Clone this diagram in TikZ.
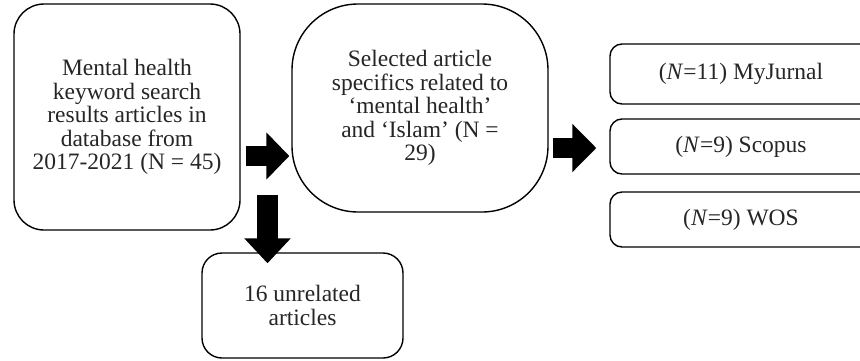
\documentclass[tikz,border=0pt]{standalone}
\usepackage{fontspec}
\setmainfont{Liberation Serif}
\usetikzlibrary{arrows.meta}
\tikzset{
  box/.style={draw=black, line width=1.4pt, fill=white, inner sep=0pt, align=center,
    font=\fontsize{23.5}{23.5}\selectfont, text=black!85},
  bigarrow/.style={line width=20pt, draw=black},
}
\begin{document}
\begin{tikzpicture}[x=1pt,y=-1pt]
\path[use as bounding box] (0,0) rectangle (860,360);
\clip (0,0) rectangle (860,360);
\node[box, rounded corners=30pt, minimum width=226pt, minimum height=226pt] (b1) at (127,117)
  {Mental health\\keyword search\\results articles in\\database from\\2017-2021 (N = 45)};
\node[box, rounded corners=66pt, minimum width=256pt, minimum height=208pt] (b2) at (420,108)
  {Selected article\\specifics related to\\‘mental health’\\and ‘Islam’ (N =\\29)};
\node[box, rounded corners=20pt, minimum width=201pt, minimum height=105pt] (b3) at (302.5,305.5)
  {16 unrelated\\articles};
\node[box, rounded corners=12pt, minimum width=262pt, minimum height=60pt] (r1) at (741,74)
  {(\textit{N}=11) MyJurnal};
\node[box, rounded corners=12pt, minimum width=262pt, minimum height=55pt] (r2) at (741,146.5)
  {(\textit{N}=9) Scopus};
\node[box, rounded corners=12pt, minimum width=262pt, minimum height=55pt] (r3) at (741,219.5)
  {(\textit{N}=9) WOS};
\coordinate (a1s) at ([xshift=5pt]b1.east |- 0,156);
\coordinate (a1e) at ([xshift=-2pt]b2.west |- 0,156);
\draw[bigarrow, -{Triangle[width=46pt,length=23pt]}] (a1s) -- (a1e);
\coordinate (a2s) at (267.5,195);
\coordinate (a2e) at ([yshift=-11pt]b3.north -| a2s);
\draw[bigarrow, line width=21pt, -{Triangle[width=45pt,length=25pt]}] (a2s) -- (a2e);
\coordinate (a3s) at ([xshift=4pt]b2.east |- 0,148);
\coordinate (a3e) at ([xshift=-13pt]r2.west |- 0,148);
\draw[bigarrow, -{Triangle[width=47pt,length=24pt]}] (a3s) -- (a3e);
\end{tikzpicture}
\end{document}
